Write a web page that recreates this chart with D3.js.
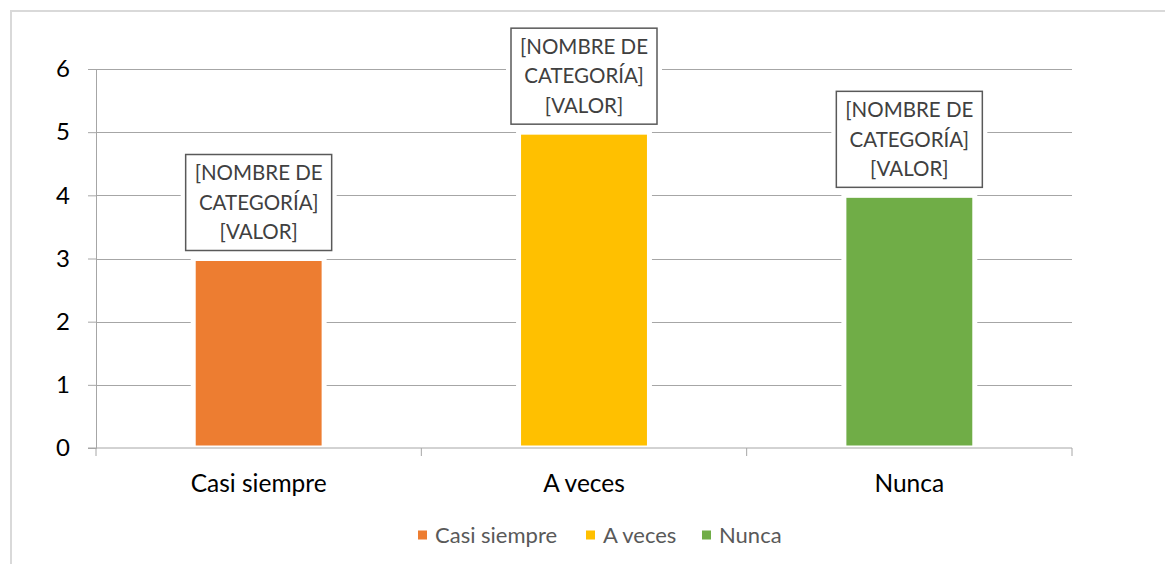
<!DOCTYPE html>
<html>
<head>
<meta charset="utf-8">
<script src="https://cdn.jsdelivr.net/npm/d3@7"></script>
<style>
  body { margin: 0; background: #fff; }
  svg text { font-family: Lato, "Open Sans", sans-serif; }
  .axis path, .axis line { stroke: #a6a6a6; }
  .axis text { fill: #000; }
</style>
</head>
<body>
<div id="chart"></div>
<script>
var categories = ["Casi siempre", "A veces", "Nunca"];
var values = [3, 5, 4];
var colors = ["#ED7D31", "#FFC000", "#70AD47"];
var yTicks = [0, 1, 2, 3, 4, 5, 6];
var labelLines = ["[NOMBRE DE", "CATEGORÍA]", "[VALOR]"];

var width = 1165, height = 564;
var margin = {top: 69, right: 93, bottom: 116, left: 96};
var chartWidth = width - margin.left - margin.right;
var chartHeight = height - margin.top - margin.bottom;

var svg = d3.select("#chart").append("svg")
    .attr("width", width)
    .attr("height", height);

// outer chart border
svg.append("rect")
    .attr("x", 11).attr("y", 11)
    .attr("width", 1170).attr("height", 600)
    .attr("fill", "none")
    .attr("stroke", "#d9d9d9")
    .attr("stroke-width", 2);

var g = svg.append("g")
    .attr("transform", `translate(${margin.left}, ${margin.top})`);

var xScale = d3.scaleBand()
    .domain(categories)
    .range([0, chartWidth])
    .paddingInner(0.613)
    .paddingOuter(0.3065);

var band = d3.scaleBand().domain(categories).range([0, chartWidth]);

var yScale = d3.scaleLinear()
    .domain([0, 6])
    .range([chartHeight, 0]);

// gridlines
g.selectAll(".grid")
    .data(yTicks.slice(1))
    .enter().append("line")
    .attr("class", "grid")
    .attr("x1", 0).attr("x2", chartWidth)
    .attr("y1", d => Math.round(yScale(d)) + 0.5)
    .attr("y2", d => Math.round(yScale(d)) + 0.5)
    .attr("stroke", "#a6a6a6")
    .attr("stroke-width", 1);

// white halo behind bars
g.selectAll(".halo")
    .data(values)
    .enter().append("rect")
    .attr("x", (d, i) => xScale(categories[i]) - 5)
    .attr("y", d => yScale(d) - 2)
    .attr("width", xScale.bandwidth() + 10)
    .attr("height", d => chartHeight - yScale(d) + 1)
    .attr("fill", "#fff");

g.selectAll(".bar")
    .data(values)
    .enter().append("rect")
    .attr("class", "bar")
    .attr("x", (d, i) => xScale(categories[i]))
    .attr("y", d => yScale(d) + 2.5)
    .attr("width", xScale.bandwidth())
    .attr("height", d => chartHeight - yScale(d) - 5)
    .attr("fill", (d, i) => colors[i]);

// y axis
var yAxis = d3.axisLeft(yScale)
    .tickValues(yTicks)
    .tickSize(8)
    .tickPadding(18)
    .tickFormat(d3.format("d"));

g.append("g")
    .attr("class", "y axis")
    .call(yAxis)
    .call(s => s.selectAll("text").style("font-size", "24px"));

// x axis: ticks at band boundaries
var xAxisG = g.append("g")
    .attr("class", "x axis")
    .attr("transform", `translate(0, ${chartHeight})`);
xAxisG.append("line")
    .attr("x1", -8).attr("x2", chartWidth)
    .attr("stroke", "#a6a6a6");
var bounds = categories.map(c => band(c)).concat([chartWidth]);
xAxisG.selectAll(".xtick")
    .data(bounds)
    .enter().append("line")
    .attr("x1", d => d).attr("x2", d => d)
    .attr("y1", 0).attr("y2", 8)
    .attr("stroke", "#a6a6a6");
xAxisG.selectAll(".xlabel")
    .data(categories)
    .enter().append("text")
    .attr("x", d => band(d) + band.bandwidth() / 2)
    .attr("y", 35)
    .attr("dy", "0.35em")
    .attr("text-anchor", "middle")
    .attr("fill", "#000")
    .style("font-size", "24.5px")
    .text(d => d);

// data label callouts
var boxW = 146, boxH = 96;
var labels = g.selectAll(".dlabel")
    .data(values)
    .enter().append("g")
    .attr("class", "dlabel")
    .attr("transform", (d, i) => `translate(${xScale(categories[i]) + xScale.bandwidth() / 2}, ${yScale(d) - 8 - boxH / 2})`);

labels.append("rect")
    .attr("x", -boxW / 2 - 5).attr("y", -boxH / 2 - 4)
    .attr("width", boxW + 10).attr("height", boxH + 8)
    .attr("fill", "#fff");
labels.append("rect")
    .attr("x", -boxW / 2).attr("y", -boxH / 2)
    .attr("width", boxW).attr("height", boxH)
    .attr("fill", "#fff")
    .attr("stroke", "#595959")
    .attr("stroke-width", 1.5);
labelLines.forEach(function(line, k) {
  labels.append("text")
      .attr("x", 0)
      .attr("y", (k - 1) * 29.5)
      .attr("dy", "0.35em")
      .attr("text-anchor", "middle")
      .attr("fill", "#404040")
      .style("font-size", "20.5px")
      .text(line);
});

// legend
var legendItems = [
  {name: categories[0], x: 418},
  {name: categories[1], x: 586},
  {name: categories[2], x: 702}
];
var legend = svg.append("g").attr("class", "legend");
var li = legend.selectAll("g")
    .data(legendItems)
    .enter().append("g")
    .attr("transform", d => `translate(${d.x}, 535)`);
li.append("rect")
    .attr("x", 0).attr("y", -4.5)
    .attr("width", 9).attr("height", 9)
    .attr("fill", (d, i) => colors[i]);
li.append("text")
    .attr("x", 17)
    .attr("dy", "0.35em")
    .attr("fill", "#595959")
    .style("font-size", "22px")
    .text(d => d.name);
</script>
</body>
</html>
